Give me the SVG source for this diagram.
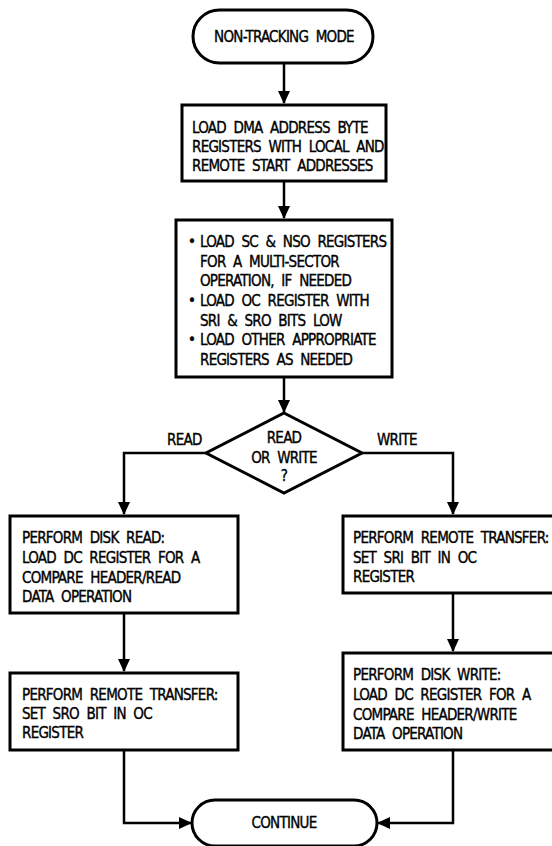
<svg xmlns="http://www.w3.org/2000/svg" width="552" height="846" viewBox="0 0 552 846">
<style>
.box{fill:#fff;stroke:#000;stroke-width:3}
.t{font-family:"DejaVu Sans Condensed","DejaVu Sans","Liberation Sans",sans-serif;font-size:15px;letter-spacing:-0.75px;word-spacing:4px;fill:#000;stroke:#000;stroke-width:0.35}
.c{text-anchor:middle}
.ln{fill:none;stroke:#000;stroke-width:2.5}
</style>
<defs>
<marker id="ah" viewBox="0 0 13 12" refX="12" refY="6" markerWidth="13" markerHeight="12" markerUnits="userSpaceOnUse" orient="auto">
<path d="M0,0 L13,6 L0,12 z" fill="#000"/>
</marker>
</defs>
<rect width="552" height="846" fill="#fff"/>
<g id="connectors">
<line class="ln" x1="284" y1="63" x2="284" y2="103" marker-end="url(#ah)"/>
<line class="ln" x1="284" y1="181" x2="284" y2="218" marker-end="url(#ah)"/>
<line class="ln" x1="284" y1="377" x2="284" y2="412" marker-end="url(#ah)"/>
<polyline class="ln" points="206,453 124,453 124,514" marker-end="url(#ah)"/>
<polyline class="ln" points="362,453 453,453 453,514" marker-end="url(#ah)"/>
<line class="ln" x1="124" y1="613" x2="124" y2="671" marker-end="url(#ah)"/>
<line class="ln" x1="453" y1="593" x2="453" y2="651" marker-end="url(#ah)"/>
<polyline class="ln" points="124,750 124,823 191,823" marker-end="url(#ah)"/>
<polyline class="ln" points="453,750 453,823 378,823" marker-end="url(#ah)"/>
<text class="t" x="167" y="445">READ</text>
<text class="t" x="377" y="445">WRITE</text>
</g>
<g id="start">
<rect class="box" x="193" y="10" width="180" height="53" rx="26.5"/>
<text class="t c" x="284" y="42">NON-TRACKING MODE</text>
</g>
<g id="load-dma">
<rect class="box" x="182" y="105" width="204" height="76"/>
<text class="t" x="192" y="133">LOAD DMA ADDRESS BYTE</text>
<text class="t" x="192" y="152">REGISTERS WITH LOCAL AND</text>
<text class="t" x="192" y="171">REMOTE START ADDRESSES</text>
</g>
<g id="load-registers">
<rect class="box" x="176" y="220" width="216" height="157"/>
<text class="t" x="188" y="247">•</text>
<text class="t" x="200" y="247">LOAD SC &amp; NSO REGISTERS</text>
<text class="t" x="200" y="266.5">FOR A MULTI-SECTOR</text>
<text class="t" x="200" y="286">OPERATION, IF NEEDED</text>
<text class="t" x="188" y="306">•</text>
<text class="t" x="200" y="306">LOAD OC REGISTER WITH</text>
<text class="t" x="200" y="325.5">SRI &amp; SRO BITS LOW</text>
<text class="t" x="188" y="345">•</text>
<text class="t" x="200" y="345">LOAD OTHER APPROPRIATE</text>
<text class="t" x="200" y="365">REGISTERS AS NEEDED</text>
</g>
<g id="decision">
<polygon class="box" points="284,413 362,453 284,493 206,453"/>
<text class="t c" x="284" y="443">READ</text>
<text class="t c" x="284" y="463">OR WRITE</text>
<text class="t c" x="284" y="481">?</text>
</g>
<g id="disk-read">
<rect class="box" x="10" y="516" width="228" height="97"/>
<text class="t" x="22" y="543">PERFORM DISK READ:</text>
<text class="t" x="22" y="563">LOAD DC REGISTER FOR A</text>
<text class="t" x="22" y="583">COMPARE HEADER/READ</text>
<text class="t" x="22" y="602">DATA OPERATION</text>
</g>
<g id="remote-sro">
<rect class="box" x="10" y="673" width="228" height="77"/>
<text class="t" x="22" y="700">PERFORM REMOTE TRANSFER:</text>
<text class="t" x="22" y="719">SET SRO BIT IN OC</text>
<text class="t" x="22" y="738">REGISTER</text>
</g>
<g id="remote-sri">
<rect class="box" x="343" y="516" width="220" height="77"/>
<text class="t" x="353" y="543">PERFORM REMOTE TRANSFER:</text>
<text class="t" x="353" y="563">SET SRI BIT IN OC</text>
<text class="t" x="353" y="582">REGISTER</text>
</g>
<g id="disk-write">
<rect class="box" x="343" y="653" width="220" height="97"/>
<text class="t" x="353" y="680">PERFORM DISK WRITE:</text>
<text class="t" x="353" y="700">LOAD DC REGISTER FOR A</text>
<text class="t" x="353" y="720">COMPARE HEADER/WRITE</text>
<text class="t" x="353" y="739">DATA OPERATION</text>
</g>
<g id="continue">
<rect class="box" x="192" y="800" width="185" height="46" rx="23"/>
<text class="t c" x="284" y="828">CONTINUE</text>
</g>
</svg>
